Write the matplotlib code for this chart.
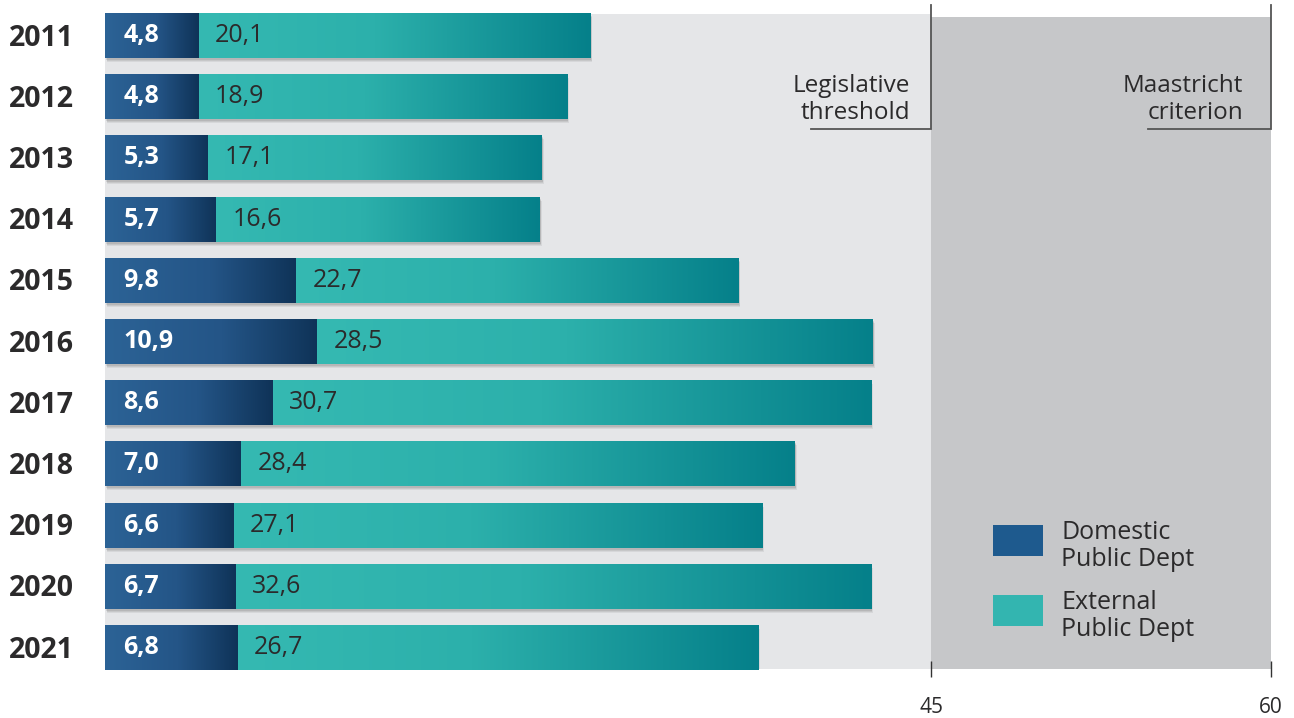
import numpy as np
import matplotlib
matplotlib.use("Agg")
import matplotlib.pyplot as plt
from matplotlib.colors import LinearSegmentedColormap
from matplotlib.patches import Rectangle
from matplotlib import transforms

# ---- data ----
years = ["2011", "2012", "2013", "2014", "2015", "2016", "2017", "2018", "2019", "2020", "2021"]
domestic = [4.8, 4.8, 5.3, 5.7, 9.8, 10.9, 8.6, 7.0, 6.6, 6.7, 6.8]
external = [20.1, 18.9, 17.1, 16.6, 22.7, 28.5, 30.7, 28.4, 27.1, 32.6, 26.7]
threshold_labels = ["45", "60"]
threshold_names = ["Legislative\nthreshold", "Maastricht\ncriterion"]
series_names = ["Domestic\nPublic Dept", "External\nPublic Dept"]
series_colors = ["#1e5a8e", "#33b5b0"]

# visual positions of the reference marks on the bar scale
threshold_pos = [42.4, 59.8]

FONT = ["Open Sans", "DejaVu Sans"]
plt.rcParams["font.family"] = FONT
TXT = "#2b2a2b"
W, H = 1294, 718

fig = plt.figure(figsize=(12.94, 7.18), dpi=100)
ax = fig.add_axes([105 / W, 49 / H, 1169.4 / W, 664.1 / H])

n = len(years)
ypos = np.arange(n)
h = 0.735

# background zones
ax.add_patch(Rectangle((0, -0.35), threshold_pos[0], 10.70, facecolor="#e5e6e8", edgecolor="none", zorder=0))
ax.add_patch(Rectangle((threshold_pos[0], -0.30), threshold_pos[1] - threshold_pos[0], 10.65,
                       facecolor="#c6c7c9", edgecolor="none", zorder=0))

cm_dark = LinearSegmentedColormap.from_list("d", [(0, "#2c6396"), (0.55, "#245587"), (1, "#0f3358")])
cm_teal = LinearSegmentedColormap.from_list("t", [(0, "#35b9b2"), (0.45, "#2cb0ab"), (1, "#05808a")])

# shadows
for dx, dy, a in [(2, -4, 0.10), (1.5, -3, 0.12), (1, -2, 0.14)]:
    tr = transforms.offset_copy(ax.transData, fig=fig, x=dx, y=dy, units="dots")
    ax.barh(ypos, np.array(domestic) + np.array(external), height=h, color="#555555",
            alpha=a, transform=tr, zorder=1, linewidth=0)

bars_d = ax.barh(ypos, domestic, height=h, color="#245587", zorder=2, linewidth=0)
bars_e = ax.barh(ypos, external, left=domestic, height=h, color="#2cb0ab", zorder=2, linewidth=0)

grad = np.linspace(0, 1, 256).reshape(1, -1)
for bars, cm in [(bars_d, cm_dark), (bars_e, cm_teal)]:
    for b in bars:
        x0, y0 = b.get_x(), b.get_y()
        w, hh = b.get_width(), b.get_height()
        im = ax.imshow(grad, extent=(x0, x0 + w, y0, y0 + hh), aspect="auto", cmap=cm,
                       interpolation="bilinear", zorder=3)
        im.set_clip_path(b)

# value labels
for i in range(n):
    ax.text(0.95, ypos[i], f"{domestic[i]:.1f}".replace(".", ","), ha="left", va="center",
            color="white", fontsize=18, fontweight="bold", zorder=5)
    ax.text(domestic[i] + 0.85, ypos[i], f"{external[i]:.1f}".replace(".", ","), ha="left", va="center",
            color=TXT, fontsize=18, zorder=5)

# year labels (left aligned at the figure edge)
yr_tr = transforms.offset_copy(transforms.blended_transform_factory(fig.transFigure, ax.transData),
                               fig=fig, x=0, y=-10, units="dots")
for i in range(n):
    ax.text(9 / W, ypos[i], years[i], transform=yr_tr, ha="left", va="baseline",
            fontsize=20.5, fontweight="bold", color=TXT, clip_on=False)

# threshold markers
line_y = 1.528
for pos, name, start, off in zip(threshold_pos, threshold_names, [36.2, 53.5], [1.08, 1.39]):
    ax.plot([start, pos, pos], [line_y, line_y, -0.5], color="#555555", lw=1.3, zorder=4,
            solid_joinstyle="miter", clip_on=False)
    ax.text(pos - off, 1.04, name, ha="right", va="center", fontsize=17.5, color=TXT,
            linespacing=1.18, zorder=5)

ax.set_xlim(0, 60)
ax.set_ylim(10.35, -0.5)

ax.set_yticks([])
ax.set_xticks(threshold_pos)
ax.set_xticklabels(threshold_labels, fontsize=15, color=TXT)
ax.tick_params(axis="x", direction="inout", length=12, width=1.0, color="#333333", pad=14)

for s in ax.spines.values():
    s.set_visible(False)
ax.set_facecolor("none")

# legend (drawn as swatches + text in figure pixels)
for k, (name, col) in enumerate(zip(series_names, series_colors)):
    top = 525 + 70 * k
    fig.add_artist(Rectangle((993 / W, 1 - (top + 31) / H), 50 / W, 31 / H,
                             transform=fig.transFigure, facecolor=col, edgecolor="none"))
    fig.text(1061 / W, 1 - (top + 21) / H, name, ha="left", va="center", fontsize=18,
             color=TXT, linespacing=1.15)

fig.savefig("out.png", dpi=100)
